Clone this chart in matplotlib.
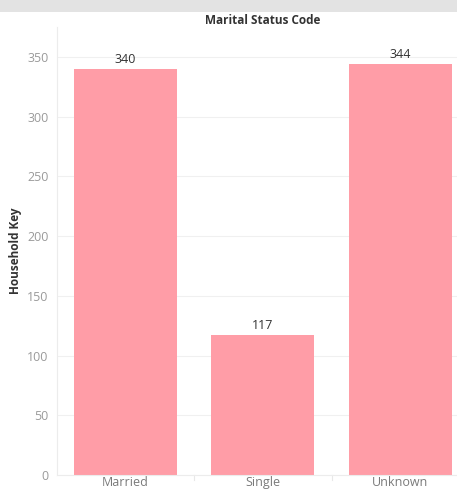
import matplotlib

matplotlib.use("Agg")
import matplotlib.pyplot as plt  # noqa: E402
from matplotlib.patches import Rectangle  # noqa: E402

categories = ["Married", "Single", "Unknown"]
household_counts = [340, 117, 344]
y_ticks = [0, 50, 100, 150, 200, 250, 300, 350]

BAR = "#ff9da7"
GRID = "#f0f0f0"

plt.rcParams["font.family"] = ["Open Sans", "DejaVu Sans"]

fig = plt.figure(figsize=(4.57, 4.92), dpi=100)
fig.patch.set_facecolor("white")

# grey strip along the top edge
fig.patches.append(
    Rectangle((0, 1 - 12 / 492), 1, 12 / 492, transform=fig.transFigure,
              facecolor="#e3e3e3", edgecolor="none", zorder=0)
)

ax = fig.add_axes([57 / 457, 17 / 492, 412 / 457, 448 / 492])
x = range(len(categories))
bars = ax.bar(x, household_counts, width=0.75, color=BAR, zorder=2)

for rect, val in zip(bars, household_counts):
    ax.annotate(str(val), (rect.get_x() + rect.get_width() / 2, val),
                xytext=(0, 2), textcoords="offset points",
                ha="center", va="bottom", fontsize=9, color="#333333")

ax.set_xlim(-0.5, 2.5)
ax.set_ylim(0, 375)
ax.set_yticks(y_ticks)
ax.set_yticklabels([str(t) for t in y_ticks])
ax.set_xticks(list(x))
ax.set_xticklabels(categories)
ax.tick_params(axis="y", length=0, pad=6, labelsize=9, labelcolor="#9a9a9a")
ax.tick_params(axis="x", length=0, pad=1, labelsize=9, labelcolor="#7a7a7a")

# faint separators between category bands
for sep in (0.5, 1.5):
    ax.plot([sep, sep], [0, -4], color="#e8e8e8", lw=0.8, clip_on=False)

ax.yaxis.grid(True, color=GRID, lw=0.8, zorder=0)
ax.set_axisbelow(True)
for side in ("top", "right"):
    ax.spines[side].set_visible(False)
ax.spines["left"].set_color("#ececec")
ax.spines["bottom"].set_color("#ececec")

ax.set_ylabel("Household Key", fontsize=8.5, fontweight="bold",
              color="#333333", labelpad=4)
ax.set_title("Marital Status Code", fontsize=8.5, fontweight="bold",
             color="#333333", pad=2)

fig.savefig("out.png", dpi=100)
